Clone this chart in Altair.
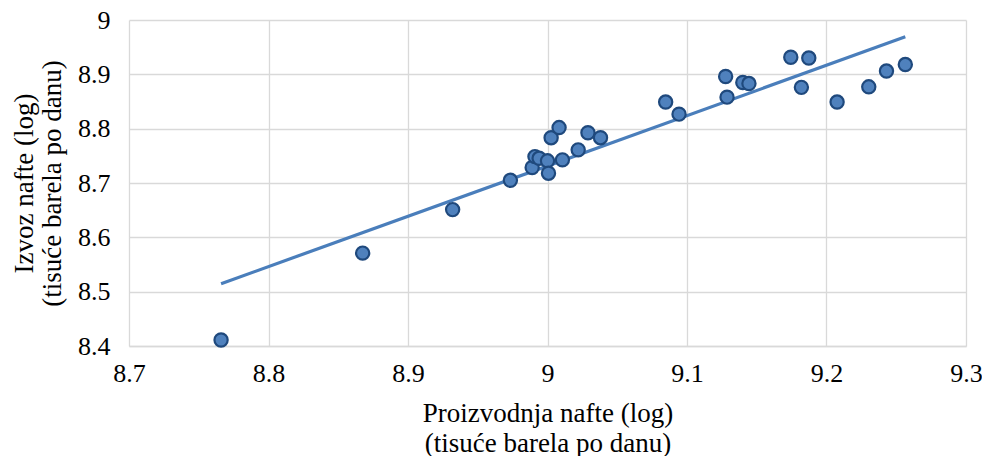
import altair as alt
import pandas as pd

proizvodnja = [8.766, 8.8675, 8.932, 8.9734, 8.989, 8.991, 8.994, 9.000, 9.0007,
               9.0107, 9.0026, 9.0083, 9.022, 9.029, 9.038, 9.0847, 9.0943, 9.1277,
               9.1287, 9.140, 9.1444, 9.1744, 9.1873, 9.182, 9.2076, 9.2303, 9.243, 9.2565]
izvoz = [8.411, 8.571, 8.651, 8.705, 8.7285, 8.7486, 8.7455, 8.7408, 8.718,
         8.7426, 8.7834, 8.802, 8.761, 8.7925, 8.7834, 8.849, 8.8267, 8.896,
         8.858, 8.885, 8.883, 8.9314, 8.930, 8.876, 8.849, 8.877, 8.906, 8.918]

x_ticks = [8.7, 8.8, 8.9, 9.0, 9.1, 9.2, 9.3]
y_ticks = [8.4, 8.5, 8.6, 8.7, 8.8, 8.9, 9.0]

df = pd.DataFrame({"x": proizvodnja, "y": izvoz})

FONT = "Liberation Serif"

x_enc = alt.X("x:Q", scale=alt.Scale(domain=[8.7, 9.3], nice=False, zero=False),
              axis=alt.Axis(values=x_ticks, format=".1~f", labelFlush=False,
                            title=["Proizvodnja nafte (log)", "(tisuće barela po danu)"],
                            titlePadding=14, labelPadding=14, titleLineHeight=30))
y_enc = alt.Y("y:Q", scale=alt.Scale(domain=[8.4, 9.0], nice=False, zero=False),
              axis=alt.Axis(values=y_ticks, format=".1~f", labelFlush=False,
                            title=["Izvoz nafte (log)", "(tisuće barela po danu)"],
                            titlePadding=11, labelPadding=19, titleLineHeight=28))

base = alt.Chart(df)

trend = base.transform_regression("x", "y").mark_line(
    color="#4a7ebb", strokeWidth=3.2
).encode(x=x_enc, y=y_enc)

points = base.mark_point(
    shape="circle", filled=True, size=175, fill="#4f81bd", stroke="#1f497d",
    strokeWidth=2.2, opacity=1
).encode(x=x_enc, y=y_enc)

chart = alt.layer(trend, points).properties(
    width=837, height=326,
    autosize=alt.AutoSizeParams(type="none"),
    padding={"left": 121, "top": 12, "right": 16, "bottom": 110},
).configure_view(stroke=None).configure_axis(
    grid=True, gridColor="#d9d9d9", gridWidth=1.3, domain=False, ticks=False,
    labelFont=FONT, titleFont=FONT, labelFontSize=26, titleFontSize=27,
    labelColor="#000000", titleColor="#000000", titleFontWeight="normal",
).configure_axisX(domain=True, domainColor="#d9d9d9", domainWidth=1.3)

chart.save("out.html", embed_options={"renderer": "svg", "actions": False})
